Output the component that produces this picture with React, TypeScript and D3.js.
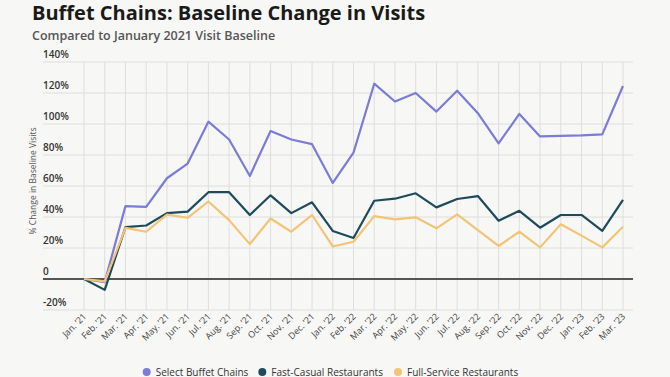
import React from "react";
import * as d3 from "d3";

const months = [
  "Jan. ’21", "Feb. ’21", "Mar. ’21", "Apr. ’21", "May. ’21", "Jun. ’21", "Jul. ’21", "Aug. ’21", "Sep. ’21",
  "Oct. ’21", "Nov. ’21", "Dec. ’21", "Jan. ’22", "Feb. ’22", "Mar. ’22", "Apr. ’22", "May. ’22", "Jun. ’22",
  "Jul. ’22", "Aug. ’22", "Sep. ’22", "Oct. ’22", "Nov. ’22", "Dec. ’22", "Jan. ’23", "Feb. ’23", "Mar. ’23",
];

const buffet = [0, -2, 47, 46.5, 65, 74.5, 101.5, 90, 66.5, 95.5, 90, 87, 62, 81.5, 126, 114.5, 120, 108, 121.5, 107, 87.5, 106.5, 92, 92.3, 92.6, 93.3, 124.5];
const fastCasual = [0, -7, 33.5, 34.5, 42.5, 43.5, 56, 56, 41.3, 54, 42.5, 49.5, 31, 26.5, 50.5, 51.8, 55.3, 46.2, 51.6, 53.5, 37.6, 44, 33.1, 41.3, 41.3, 31, 51];
const fullService = [0, -1.5, 33, 30.5, 41.5, 39.5, 50, 38, 22.5, 39, 30.5, 41.3, 21, 24, 40.6, 38.5, 39.8, 32.7, 41.7, 31.6, 21.3, 30.5, 20.4, 35.3, 28, 20.4, 33.7];

const yTicks = [-20, 0, 20, 40, 60, 80, 100, 120, 140];
const seriesNames = ["Select Buffet Chains", "Fast-Casual Restaurants", "Full-Service Restaurants"];
const seriesColors = ["#7b7bd8", "#1e4b5c", "#f3c474"];

export default function App() {
  const W = 670, H = 377;
  const plotLeft = 43, plotRight = 633;
  const x = d3.scalePoint<string>().domain(months).range([84, 623]);
  const y = d3.scaleLinear().domain([-20, 140]).range([310, 62]);
  const line = d3.line<number>().x((_, i) => x(months[i]) as number).y((v) => y(v));
  const data = [buffet, fastCasual, fullService];
  const font = "'Open Sans', sans-serif";
  const legendX = [146.7, 262.3, 398];

  return (
    <svg width={W} height={H} style={{ position: "absolute", left: 0, top: 0, background: "#f7f7f5" }} fontFamily={font}>
      <rect width={W} height={H} fill="#f7f7f5" />
      <text x={32} y={19.5} fontSize={20} fontWeight={700} fill="#1a1a1a">Buffet Chains: Baseline Change in Visits</text>
      <text x={32} y={40} fontSize={12.5} fontWeight={600} fill="#555">Compared to January 2021 Visit Baseline</text>

      {yTicks.filter((t) => t !== 0).map((t) => (
        <line key={"h" + t} x1={plotLeft} x2={plotRight} y1={y(t)} y2={y(t)} stroke="#dedede" strokeWidth={1} />
      ))}
      {months.map((m) => (
        <line key={"v" + m} x1={x(m)} x2={x(m)} y1={y(140)} y2={y(-20)} stroke="#dedede" strokeWidth={1} />
      ))}
      <line x1={plotLeft} x2={plotRight} y1={y(0)} y2={y(0)} stroke="#555" strokeWidth={2} />

      {yTicks.map((t) => (
        <text key={"yl" + t} x={plotLeft} y={y(t) - 4} fontSize={10} fontWeight={600} fill="#333">
          {t === 0 ? "0" : `${t}%`}
        </text>
      ))}
      <text transform={`translate(36,181) rotate(-90)`} textAnchor="middle" fontSize={8.5} fill="#555">% Change in Baseline Visits</text>

      {data.map((d, i) => (
        <path key={"s" + i} d={line(d) as string} fill="none" stroke={seriesColors[i]} strokeWidth={2.2} strokeLinejoin="round" />
      ))}

      {months.map((m) => (
        <text key={"xl" + m} transform={`translate(${(x(m) as number) + 3},317) rotate(-45)`} textAnchor="end" fontSize={9} fill="#444">{m}</text>
      ))}

      {seriesNames.map((n, i) => (
        <g key={"lg" + i}>
          <circle cx={legendX[i]} cy={372} r={4} fill={seriesColors[i]} />
          <text x={legendX[i] + 9} y={375.5} fontSize={10} fill="#333">{n}</text>
        </g>
      ))}
    </svg>
  );
}
